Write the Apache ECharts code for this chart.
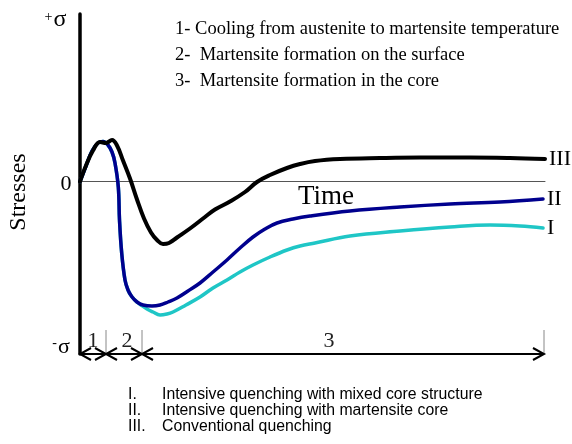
<!DOCTYPE html>
<html>
<head>
<meta charset="utf-8">
<style>html,body{margin:0;padding:0;background:#fff;}#c{width:572px;height:444px;}</style>
<script src="https://cdn.jsdelivr.net/npm/echarts@6/dist/echarts.min.js"></script>
</head>
<body>
<div id="c"></div>
<script>
// ---- data (time in arbitrary units, stress in arbitrary units, 0 = zero stress) ----
const X_MIN = 0, X_MAX = 465;
const Y_MIN = -172.5, Y_MAX = 167.5;
const yTickLabels = ['+σ', '0', '-σ'];

const curveIII = [[0,0],[6,16],[13,31],[20,39.5],[26,38.5],[32,41.5],[37,36],[43,21],[50,3],[57,-18],[64,-37],[71,-51],[77,-58.5],[83,-62.5],[89,-61.5],[97,-56],[110,-47],[125,-35.5],[135,-28],[150,-20],[165,-10.5],[177,-0.5],[190,6.5],[207,13.5],[220,17.5],[235,20.5],[260,22.5],[300,23.5],[340,24],[390,24],[430,23.5],[465,22.5]];
const curveII = [[0,0],[6,15.5],[12,30.5],[18,38.5],[23,40],[28,36.5],[32,29.5],[35,18.5],[38.3,-5.5],[39.5,-38.5],[41.7,-71.5],[45,-98.5],[48,-108.5],[51.7,-115],[57,-120.5],[63,-123.5],[72,-124.5],[80,-123.5],[88,-120.5],[97,-116.5],[108,-109.5],[120,-101.5],[133,-90.5],[147,-78.5],[160,-66.5],[173,-55.5],[185,-47.5],[197,-41.5],[213,-37.5],[230,-34.5],[270,-29.5],[320,-25.5],[370,-22.5],[420,-20.5],[463,-17.5]];
const curveI = [[0,0],[6,15.5],[12,30.5],[18,38.5],[23,40],[28,36.5],[32,29.5],[35,18.5],[38.3,-5.5],[39.5,-38.5],[41.7,-71.5],[45,-98.5],[48,-108.5],[51.7,-115],[57,-120.5],[61,-123.5],[67,-127.5],[73,-130.5],[80,-133.5],[87,-132.5],[93,-130.5],[106,-123.5],[120,-115.5],[133,-106.5],[147,-98.5],[160,-90.5],[173,-83.5],[190,-75.5],[207,-68.5],[220,-64.5],[235,-61.5],[270,-54.5],[320,-49.5],[370,-45.5],[410,-43.5],[440,-44.5],[463,-46.5]];

const phaseBounds = [0, 26, 62, 464];
const phaseLabels = ['1', '2', '3'];
const stageNotes = ['1- Cooling from austenite to martensite temperature', '2-  Martensite formation on the surface', '3-  Martensite formation in the core'];
const curveNums = ['I.', 'II.', 'III.'];
const curveNotes = ['Intensive quenching with mixed core structure', 'Intensive quenching with martensite core', 'Conventional quenching'];

// ---- chart ----
const SERIF = '"Liberation Serif","Times New Roman",serif';
const SANS = '"Liberation Sans",Arial,sans-serif';
const chart = echarts.init(document.getElementById('c'));

const phaseData = phaseLabels.map((l, i) => [phaseBounds[i], phaseBounds[i + 1]]);
const labelShift = [0, 3, -14];

function line(name, data, color, width, z) {
  return {
    type: 'line', name: name, data: data, smooth: 0.4, symbol: 'none', z: z,
    lineStyle: { color: color, width: width, cap: 'round', join: 'round' },
    endLabel: { show: true, formatter: name, distance: 4, color: '#000', fontFamily: SERIF, fontSize: 22 },
    silent: true, animation: false
  };
}

const graphic = [];
stageNotes.forEach((t, i) => graphic.push({ type: 'text', left: 175, top: [20, 46, 72][i], style: { text: t, font: '18.5px ' + SERIF, fill: '#000' } }));
curveNums.forEach((t, i) => graphic.push({ type: 'text', left: 128, top: [387, 403, 419][i], style: { text: t, font: '15.8px ' + SANS, fill: '#000' } }));
curveNotes.forEach((t, i) => graphic.push({ type: 'text', left: 162, top: [387, 403, 419][i], style: { text: t, font: '15.8px ' + SANS, fill: '#000' } }));
graphic.push({ type: 'text', x: 326, y: 197, style: { text: 'Time', font: '27px ' + SERIF, fill: '#000', align: 'center', verticalAlign: 'middle' } });
graphic.push({ type: 'text', x: 19, y: 192, rotation: Math.PI / 2, style: { text: 'Stresses', font: '24px ' + SERIF, fill: '#000', align: 'center', verticalAlign: 'middle' } });
graphic.push({ type: 'text', x: 66, y: 184, style: { text: yTickLabels[1], font: '22px ' + SERIF, fill: '#000', align: 'center', verticalAlign: 'middle' } });
graphic.push({ type: 'text', x: 48.5, y: 17, style: { text: yTickLabels[0].charAt(0), font: '14px ' + SERIF, fill: '#000', align: 'center', verticalAlign: 'middle' } });
graphic.push({ type: 'text', x: 60, y: 20, style: { text: yTickLabels[0].charAt(1), font: '24px ' + SERIF, fill: '#000', align: 'center', verticalAlign: 'middle' } });
graphic.push({ type: 'text', x: 54.5, y: 343, style: { text: yTickLabels[2].charAt(0), font: '14px ' + SERIF, fill: '#000', align: 'center', verticalAlign: 'middle' } });
graphic.push({ type: 'text', x: 64, y: 347, style: { text: yTickLabels[2].charAt(1), font: '22px ' + SERIF, fill: '#000', align: 'center', verticalAlign: 'middle' } });

chart.setOption({
  backgroundColor: '#fff',
  animation: false,
  grid: { left: 80, right: 27, top: 14, bottom: 90 },
  xAxis: {
    type: 'value', min: X_MIN, max: X_MAX,
    axisLine: { onZero: true, lineStyle: { color: '#555', width: 1 } },
    axisTick: { show: false }, axisLabel: { show: false }, splitLine: { show: false }
  },
  yAxis: {
    type: 'value', min: Y_MIN, max: Y_MAX,
    axisLine: { show: true, onZero: false, lineStyle: { color: '#000', width: 3.5 } },
    axisTick: { show: false }, axisLabel: { show: false }, splitLine: { show: false }
  },
  graphic: graphic,
  series: [
    line('I', curveI, '#1fc6c6', 3.5, 2),
    line('II', curveII, '#00008e', 3.5, 3),
    line('III', curveIII, '#000000', 4, 4),
    {
      type: 'custom', data: phaseData, clip: false, silent: true, z: 5,
      encode: { x: [0, 1] },
      renderItem: function (params, api) {
        const s = api.coord([api.value(0), Y_MIN]);
        const e = api.coord([api.value(1), Y_MIN]);
        const L = 11, H = 6;
        const st = { stroke: '#000', lineWidth: 2, fill: null };
        return {
          type: 'group',
          children: [
            { type: 'line', shape: { x1: e[0], y1: e[1] - 24, x2: e[0], y2: e[1] }, style: { stroke: '#888', lineWidth: 1 } },
            { type: 'line', shape: { x1: s[0], y1: s[1], x2: e[0], y2: e[1] }, style: st },
            { type: 'polyline', shape: { points: [[s[0] + L, s[1] - H], [s[0], s[1]], [s[0] + L, s[1] + H]] }, style: st },
            { type: 'polyline', shape: { points: [[e[0] - L, e[1] - H], [e[0], e[1]], [e[0] - L, e[1] + H]] }, style: st },
            { type: 'text', x: (s[0] + e[0]) / 2 + labelShift[params.dataIndex], y: s[1] - 13,
              style: { text: phaseLabels[params.dataIndex], font: '22px ' + SERIF, fill: '#222', align: 'center', verticalAlign: 'middle' } }
          ]
        };
      }
    }
  ]
});
</script>
</body>
</html>
